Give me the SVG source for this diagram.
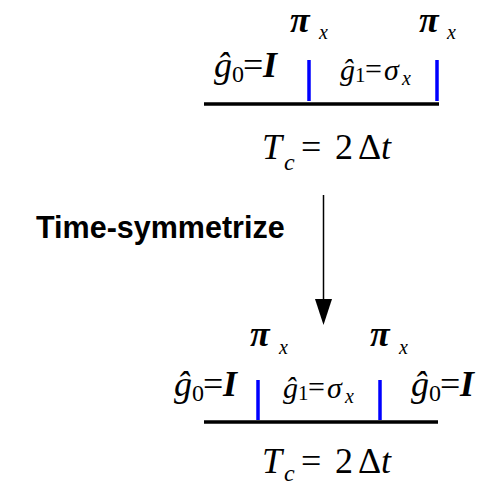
<svg xmlns="http://www.w3.org/2000/svg" width="481" height="487" viewBox="0 0 481 487">
<style>
.m{font-family:"Liberation Serif","Times New Roman",serif;font-style:italic;fill:#000}
.r{font-family:"Liberation Serif","Times New Roman",serif;fill:#000}
.pi{font-family:"Liberation Serif","Times New Roman",serif;font-style:italic;font-weight:bold;font-size:36px}
.sub{font-size:20px}
.big{font-size:36px}
.mid{font-size:30px}
.bar{stroke:#0000ff;stroke-width:3.5}
.base{stroke:#000;stroke-width:3.5}
.lbl{font-family:"Liberation Sans",Arial,sans-serif;font-weight:bold;font-size:30.5px;fill:#000}
</style>
<rect width="481" height="487" fill="#fff"/>
<g id="top">
  <text class="pi" x="290" y="32">π</text><text class="m sub" x="319" y="39">x</text>
  <text class="pi" x="419" y="32">π</text><text class="m sub" x="447" y="39">x</text>
  <text class="m big" x="214" y="77">ĝ</text><text class="r" font-size="24" x="232" y="82">0</text><text class="r big" x="243" y="77">=</text><text class="m big" x="263" y="77" font-weight="bold">I</text>
  <text class="m mid" x="340" y="80">ĝ</text><text class="r" font-size="21" x="355" y="82">1</text><text class="r mid" x="365" y="79">=</text><text class="m mid" x="384" y="80">σ</text><text class="m sub" x="402" y="85">x</text>
  <line class="bar" x1="309" y1="60" x2="309" y2="101"/>
  <line class="bar" x1="437" y1="60" x2="437" y2="101"/>
  <line class="base" x1="204" y1="104" x2="439" y2="104"/>
  <text class="m big" x="262" y="159">T</text><text class="m" font-size="24" x="284" y="170">c</text><text class="r big" x="301" y="159">=</text><text class="r big" x="335" y="159">2</text><text class="r big" x="358" y="159">Δ</text><text class="m big" x="381" y="159">t</text>
</g>
<g id="bottom">
  <text class="pi" x="250" y="346">π</text><text class="m sub" x="279" y="354">x</text>
  <text class="pi" x="370" y="346">π</text><text class="m sub" x="399" y="354">x</text>
  <text class="m big" x="174" y="396">ĝ</text><text class="r" font-size="24" x="192" y="401">0</text><text class="r big" x="203" y="396">=</text><text class="m big" x="223" y="396" font-weight="bold">I</text>
  <text class="m mid" x="283" y="398">ĝ</text><text class="r" font-size="21" x="298" y="400">1</text><text class="r mid" x="308" y="397">=</text><text class="m mid" x="327" y="398">σ</text><text class="m sub" x="345" y="403">x</text>
  <line class="bar" x1="258" y1="380" x2="258" y2="420"/>
  <line class="bar" x1="380" y1="380" x2="380" y2="420"/>
  <line class="base" x1="204" y1="422" x2="438" y2="422"/>
  <text class="m big" x="411" y="396">ĝ</text><text class="r" font-size="24" x="429" y="401">0</text><text class="r big" x="440" y="396">=</text><text class="m big" x="460" y="396" font-weight="bold">I</text>
  <text class="m big" x="262" y="473">T</text><text class="m" font-size="24" x="284" y="481">c</text><text class="r big" x="301" y="473">=</text><text class="r big" x="335" y="473">2</text><text class="r big" x="358" y="473">Δ</text><text class="m big" x="381" y="473">t</text>
</g>
<g id="connectors">
  <line x1="323.5" y1="195" x2="323.5" y2="300" stroke="#000" stroke-width="1.5"/>
  <polygon points="315,299 332,299 323.5,325" fill="#000"/>
</g>
<text class="lbl" x="36" y="238">Time-symmetrize</text>
</svg>
